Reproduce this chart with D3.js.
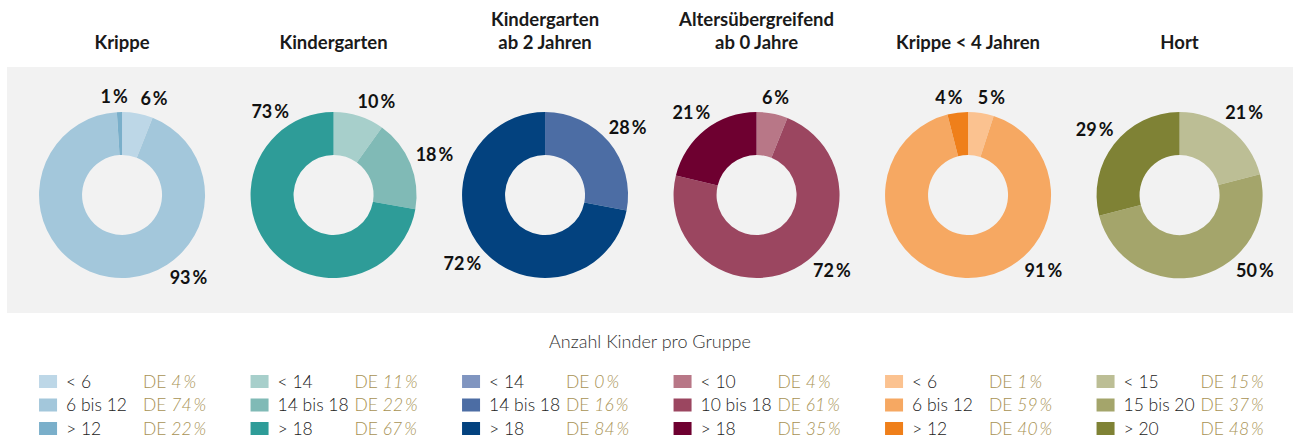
<!DOCTYPE html>
<html lang="de">
<head>
    <meta charset="UTF-8">
    <title>Anzahl Kinder pro Gruppe</title>
    <script src="https://d3js.org/d3.v7.min.js"></script>
    <style>
        body { margin: 0; background: #fff; }
        svg { font-family: Lato, "Open Sans", sans-serif; display: block; }
        .title { font-size: 18.5px; font-weight: 700; fill: #1a1a1a; }
        .pct { font-size: 18px; font-weight: 700; fill: #111; }
        .subtitle { font-size: 18px; font-weight: 300; fill: #333; }
        .legend text { font-size: 17.5px; font-weight: 300; }
        .legend .lab { fill: #222; }
        .legend .de { fill: #a89253; }
    </style>
</head>
<body>
<div id="chart"></div>
<script>
    // --- data ---
    var titles = [
        ["Krippe"],
        ["Kindergarten"],
        ["Kindergarten", "ab 2 Jahren"],
        ["Altersübergreifend", "ab 0 Jahre"],
        ["Krippe < 4 Jahren"],
        ["Hort"]
    ];
    var groupLabels = [
        ["< 6", "6 bis 12", "> 12"],
        ["< 14", "14 bis 18", "> 18"],
        ["< 14", "14 bis 18", "> 18"],
        ["< 10", "10 bis 18", "> 18"],
        ["< 6", "6 bis 12", "> 12"],
        ["< 15", "15 bis 20", "> 20"]
    ];
    var shares = [
        [6, 93, 1],
        [10, 18, 73],
        [0, 28, 72],
        [6, 72, 21],
        [5, 91, 4],
        [21, 50, 29]
    ];
    var deShares = [
        [4, 74, 22],
        [11, 22, 67],
        [0, 16, 84],
        [4, 61, 35],
        [1, 59, 40],
        [15, 37, 48]
    ];
    var legendTitle = "Anzahl Kinder pro Gruppe";

    // --- style ---
    var palette = [
        ["#bdd7e7", "#a3c7db", "#7aafca"],
        ["#a7cfcb", "#80bab6", "#2e9c98"],
        ["#8095c0", "#4c6da4", "#03427f"],
        ["#b87787", "#9b4660", "#6e0030"],
        ["#fbc290", "#f6a862", "#ef7f1a"],
        ["#bcbe95", "#a4a56b", "#7f8235"]
    ];
    // Excel "best fit" label directions (degrees clockwise from top) where they differ from slice centre
    var labelAngleOverride = {
        "0-0": 18.3, "0-1": 141, "0-2": -4.6,
        "1-0": 24.6, "1-2": 323,
        "3-1": 135,
        "4-0": 13.4, "4-1": 135, "4-2": -11,
        "5-1": 135
    };

    var W = 1293, H = 440;
    var outerR = 83, innerR = 40;
    var cy = 195;

    var svg = d3.select("#chart").append("svg")
        .attr("width", W)
        .attr("height", H);

    svg.append("rect")
        .attr("x", 7).attr("y", 67)
        .attr("width", W - 7).attr("height", 246)
        .attr("fill", "#f2f2f2");

    var x = d3.scaleBand()
        .domain(d3.range(titles.length))
        .range([16.3, 1285.3]);
    var cx = function (i) { return x(i) + x.bandwidth() / 2; };

    var pie = d3.pie().sort(null).value(function (d) { return d; });
    var arc = d3.arc().innerRadius(innerR).outerRadius(outerR);

    titles.forEach(function (t, i) {
        var g = svg.append("g").attr("transform", "translate(" + cx(i) + ",0)");
        t.forEach(function (line, j) {
            g.append("text")
                .attr("class", "title")
                .attr("text-anchor", "middle")
                .attr("y", 49 - (t.length - 1 - j) * 23.5)
                .text(line);
        });

        var donut = svg.append("g").attr("transform", "translate(" + cx(i) + "," + cy + ")");
        var arcs = pie(shares[i]);
        donut.selectAll("path")
            .data(arcs)
            .enter().append("path")
            .attr("d", arc)
            .attr("fill", function (d, k) { return palette[i][k]; });

        donut.selectAll("text")
            .data(arcs.filter(function (d) { return d.data > 0; }))
            .enter().append("text")
            .attr("class", "pct")
            .attr("text-anchor", "middle")
            .attr("dominant-baseline", "central")
            .attr("transform", function (d) {
                var key = i + "-" + d.index;
                var deg = labelAngleOverride[key] !== undefined
                    ? labelAngleOverride[key]
                    : (d.startAngle + d.endAngle) / 2 * 180 / Math.PI;
                var a = deg * Math.PI / 180;
                var r = 98 + 12 * Math.abs(Math.sin(a));
                return "translate(" + (r * Math.sin(a)) + "," + (-r * Math.cos(a)) + ")";
            })
            .each(function (d) {
                var el = d3.select(this);
                el.append("tspan").text(d.data);
                el.append("tspan").attr("dx", 2).text("%");
            });
    });

    svg.append("text")
        .attr("class", "subtitle")
        .attr("x", 650)
        .attr("y", 348)
        .attr("text-anchor", "middle")
        .text(legendTitle);

    var rowY = d3.scaleLinear().domain([0, 1]).range([375, 398.5]);

    groupLabels.forEach(function (labels, i) {
        var lx = cx(i) - 83;
        var lg = svg.append("g").attr("class", "legend");
        labels.forEach(function (lab, k) {
            var y0 = rowY(k);
            lg.append("rect")
                .attr("x", lx).attr("y", y0)
                .attr("width", 18).attr("height", 13)
                .attr("fill", palette[i][k]);
            lg.append("text")
                .attr("class", "lab")
                .attr("x", lx + 27).attr("y", y0 + 12.5)
                .text(lab);
            var de = lg.append("text")
                .attr("class", "de")
                .attr("x", lx + 104).attr("y", y0 + 12.5);
            de.append("tspan").text("DE ");
            de.append("tspan").attr("font-style", "italic").text(deShares[i][k]);
            de.append("tspan").attr("font-style", "italic").attr("dx", 2).text("%");
        });
    });
</script>
</body>
</html>
